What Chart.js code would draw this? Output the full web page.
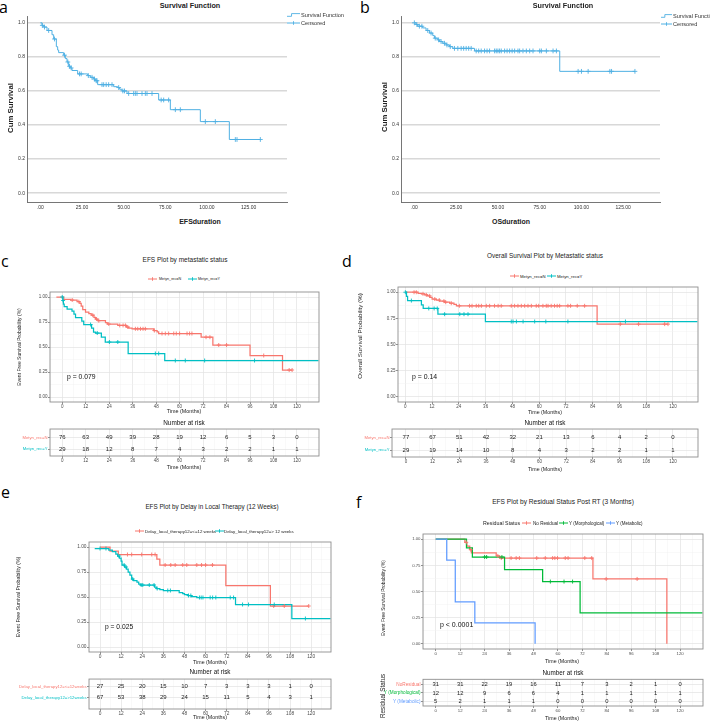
<!DOCTYPE html>
<html><head><meta charset="utf-8">
<script src="https://cdn.jsdelivr.net/npm/chart.js@4.4.1/dist/chart.umd.min.js"></script>
<style>
html,body{margin:0;padding:0;background:#fff;}
#page{position:relative;width:710px;height:722px;overflow:hidden;background:#fff;}
canvas{display:block;}
</style></head><body><div id="page"></div>
<script>
// ---------------- DATA ----------------
// Panel a : EFS (SPSS)
const aTime = [0, 1, 2, 4, 7, 8, 9.6, 10.4, 11, 14, 15, 16, 17, 18, 19, 22.4, 28.4, 30, 32, 33, 34.4, 44, 46.4, 47.6, 49, 52, 71, 78, 96, 113.4, 132];
const aSurv = [1.0, 0.985, 0.975, 0.955, 0.93, 0.905, 0.86, 0.84, 0.825, 0.81, 0.79, 0.77, 0.745, 0.735, 0.72, 0.70, 0.69, 0.68, 0.67, 0.66, 0.637, 0.625, 0.62, 0.61, 0.60, 0.585, 0.547, 0.49, 0.42, 0.315, 0.315];
const aCensT = [1.2, 2.5, 5, 8.5, 14.5, 16.5, 17.5, 18.5, 23.5, 24.5, 28.8, 31, 32.5, 33.5, 34, 37, 38, 39.5, 41, 43, 47, 49.5, 50.5, 53, 56, 57, 58, 61, 63, 64, 67, 72.5, 74, 77, 81, 84, 99, 105, 117, 118, 132];
const aCensS = [0.985, 0.975, 0.955, 0.905, 0.81, 0.77, 0.745, 0.735, 0.70, 0.70, 0.69, 0.68, 0.67, 0.66, 0.66, 0.637, 0.637, 0.637, 0.637, 0.637, 0.62, 0.60, 0.60, 0.585, 0.585, 0.585, 0.585, 0.585, 0.585, 0.585, 0.585, 0.547, 0.547, 0.547, 0.49, 0.49, 0.42, 0.42, 0.315, 0.315, 0.315];

// Panel b : OS (SPSS)
const bTime = [0, 1, 2, 5, 7, 9, 11, 12, 14, 15, 17, 19, 21, 23, 36, 87, 132];
const bSurv = [1.0, 0.99, 0.98, 0.97, 0.955, 0.94, 0.925, 0.91, 0.90, 0.89, 0.88, 0.87, 0.86, 0.85, 0.835, 0.715, 0.715];
const bCensT = [0, 1.5, 3, 4.5, 8, 10, 12.5, 14.5, 16, 18, 19.5, 21.5, 24, 26, 28, 29.5, 31, 32.5, 34, 37, 38.5, 40, 42, 43.5, 45, 48, 49, 50, 51, 52, 54, 55.5, 57, 58.5, 60, 62, 63, 65, 67, 69, 71, 75, 76, 79, 83, 85, 98, 100, 104, 117, 118, 132];
const bCensS = [1.0, 0.99, 0.98, 0.98, 0.955, 0.94, 0.91, 0.90, 0.89, 0.88, 0.87, 0.86, 0.85, 0.85, 0.85, 0.85, 0.85, 0.85, 0.85,
  0.835, 0.835, 0.835, 0.835, 0.835, 0.835, 0.835, 0.835, 0.835, 0.835, 0.835, 0.835, 0.835, 0.835, 0.835, 0.835, 0.835, 0.835, 0.835, 0.835, 0.835, 0.835, 0.835, 0.835, 0.835, 0.835, 0.835,
  0.715, 0.715, 0.715, 0.715, 0.715, 0.715];

// Panel c : EFS by metastatic status
const cNTime = [-3, 0.8, 4.3, 7.6, 9, 9.7, 10.5, 11.9, 13.6, 14.8, 16.2, 17, 18.2, 22.1, 23, 28.4, 32.8, 34, 35.7, 46.8, 48.5, 49.3, 71, 77, 96, 112.6, 117.5];
const cNSurv = [1.0, 0.976, 0.97, 0.953, 0.936, 0.91, 0.875, 0.85, 0.834, 0.818, 0.797, 0.78, 0.763, 0.743, 0.73, 0.716, 0.70, 0.69, 0.682, 0.665, 0.652, 0.635, 0.598, 0.52, 0.415, 0.27, 0.27];
const cNCensT = [5.1, 8.5, 15.6, 17.5, 18.7, 23.8, 29.4, 31.1, 32.3, 33.5, 37.4, 38.6, 40, 41.3, 42.5, 47.1, 51, 52.7, 54.4, 57, 58.3, 60, 63.8, 65.1, 66.3, 73.5, 75.5, 80, 84, 103, 116, 117.5];
const cNCensS = [0.97, 0.953, 0.818, 0.78, 0.763, 0.73, 0.716, 0.716, 0.716, 0.70, 0.682, 0.682, 0.682, 0.682, 0.682, 0.665, 0.635, 0.635, 0.635, 0.635, 0.635, 0.635, 0.635, 0.635, 0.635, 0.598, 0.598, 0.52, 0.52, 0.415, 0.27, 0.27];
const cYTime = [0, 0.3, 0.6, 1, 2.5, 5, 6, 6.8, 10, 11, 15, 16, 17, 20, 22, 33.7, 52.4, 131];
const cYSurv = [1.0, 0.965, 0.93, 0.905, 0.88, 0.86, 0.83, 0.795, 0.76, 0.725, 0.69, 0.65, 0.64, 0.60, 0.55, 0.435, 0.365, 0.365];
const cYCensT = [0, 0.45, 14.5, 17.9, 24.1, 28.4, 47.6, 49.3, 57.8, 62.9, 72.8, 98.3];
const cYCensS = [1.0, 0.965, 0.725, 0.64, 0.55, 0.55, 0.435, 0.435, 0.365, 0.365, 0.365, 0.365];
const cRiskN = [76, 63, 49, 39, 28, 19, 12, 6, 5, 3, 0];
const cRiskY = [29, 18, 12, 8, 7, 4, 3, 2, 2, 1, 1];

// Panel d : OS by metastatic status
const dNTime = [0, 5.7, 7.2, 8.7, 9.9, 11, 12, 13.9, 15.4, 17.6, 19.9, 21.8, 22.9, 86, 117.8];
const dNSurv = [1.0, 0.99, 0.985, 0.975, 0.965, 0.95, 0.935, 0.925, 0.915, 0.905, 0.895, 0.885, 0.87, 0.695, 0.695];
const dNCensT = [3.9, 4.9, 7.9, 9.4, 10.9, 13.2, 15.2, 17.3, 18.1, 20.6, 24.2, 28.8, 29.9, 31.8, 32.9, 34.1, 36.3, 37.8, 40, 41.6, 43, 47.5, 49, 50.5, 52, 53.5, 55, 56.5, 58.7, 59.8, 61.7, 63.2, 64, 65.4, 66.9, 68.1, 69.2, 72.9, 74.1, 77.1, 80.4, 96.4, 104.6, 116.3, 117.8];
const dNCensS = [1.0, 1.0, 0.985, 0.975, 0.965, 0.935, 0.925, 0.915, 0.905, 0.895,
  0.87, 0.87, 0.87, 0.87, 0.87, 0.87, 0.87, 0.87, 0.87, 0.87, 0.87, 0.87, 0.87, 0.87, 0.87, 0.87, 0.87, 0.87, 0.87, 0.87, 0.87, 0.87, 0.87, 0.87, 0.87, 0.87, 0.87, 0.87, 0.87, 0.87, 0.87,
  0.695, 0.695, 0.695, 0.695];
const dYTime = [0, 0.5, 1, 7.2, 8, 14.6, 35.9, 131];
const dYSurv = [1.0, 0.96, 0.92, 0.88, 0.845, 0.79, 0.72, 0.72];
const dYCensT = [0, 2.7, 10.5, 12.9, 14.3, 17.6, 24.4, 26.3, 28.1, 47.5, 48.3, 49.8, 52.8, 58, 63, 72.9, 98.7];
const dYCensS = [1.0, 0.92, 0.845, 0.845, 0.845, 0.79, 0.79, 0.79, 0.79, 0.72, 0.72, 0.72, 0.72, 0.72, 0.72, 0.72, 0.72];
const dRiskN = [77, 67, 51, 42, 32, 21, 13, 6, 4, 2, 0];
const dRiskY = [29, 19, 14, 10, 8, 4, 3, 2, 2, 1, 1];

// Panel e : EFS by delay in local therapy
const eRTime = [0, 5.7, 10.4, 32.3, 34, 71.5, 96.8, 118.6];
const eRSurv = [1.0, 0.96, 0.925, 0.88, 0.82, 0.615, 0.41, 0.41];
const eRCensT = [15.6, 18, 23.7, 29.4, 31.3, 37, 40.2, 42.7, 47, 49.3, 55, 57.7, 60, 63.9, 98.7, 104.7, 118.6];
const eRCensS = [0.925, 0.925, 0.925, 0.925, 0.925, 0.82, 0.82, 0.82, 0.82, 0.82, 0.82, 0.82, 0.82, 0.82, 0.41, 0.41, 0.41];
const eTTime = [-3, 5, 7, 9, 10, 11, 12, 12.5, 14, 15, 16, 17, 18, 19, 21, 22, 23, 31, 32, 34, 36, 45, 47, 48, 50, 52, 55, 77, 109, 131];
const eTSurv = [0.985, 0.97, 0.955, 0.93, 0.91, 0.89, 0.86, 0.82, 0.80, 0.78, 0.75, 0.72, 0.68, 0.665, 0.65, 0.63, 0.62, 0.60, 0.585, 0.575, 0.565, 0.545, 0.535, 0.525, 0.515, 0.505, 0.495, 0.425, 0.285, 0.285];
const eTCensT = [0, 3.4, 10.8, 13.7, 14.8, 18.6, 23.4, 24.3, 28, 30.7, 32.5, 38.5, 40, 50.3, 51.6, 56.5, 57.5, 58.5, 62.6, 64, 65.8, 74, 75.9, 81, 84.4, 99, 116.7];
const eTCensS = [0.985, 0.985, 0.91, 0.82, 0.80, 0.68, 0.62, 0.62, 0.62, 0.62, 0.585, 0.565, 0.565, 0.515, 0.515, 0.495, 0.495, 0.495, 0.495, 0.495, 0.495, 0.495, 0.495, 0.425, 0.425, 0.425, 0.285];
const eRiskLe = [27, 25, 20, 15, 10, 7, 3, 3, 3, 1, 0];
const eRiskGt = [67, 53, 38, 29, 24, 15, 11, 5, 4, 3, 1];

// Panel f : EFS by residual status
const fRTime = [0, 14.3, 15.3, 16.7, 17.5, 29.7, 31.4, 77.2, 113.5];
const fRSurv = [1.0, 0.97, 0.935, 0.90, 0.87, 0.84, 0.82, 0.62, 0.0];
const fRCensT = [15, 17.2, 30.5, 32.2, 37, 39.5, 41.1, 49.6, 53.8, 57.4, 58.5, 59.8, 63.6, 65, 73.2, 76.6, 83.7, 98.9];
const fRCensS = [0.97, 0.90, 0.84, 0.82, 0.82, 0.82, 0.82, 0.82, 0.82, 0.82, 0.82, 0.82, 0.82, 0.82, 0.82, 0.82, 0.62, 0.62];
const fGTime = [0, 15.1, 18, 33.8, 52.5, 70.9, 131];
const fGSurv = [1.0, 0.917, 0.83, 0.71, 0.595, 0.295, 0.295];
const fGCensT = [24, 25, 32.5, 56.3, 63, 67.2];
const fGCensS = [0.83, 0.83, 0.83, 0.595, 0.595, 0.595];
const fBTime = [0, 5.4, 9.6, 19.2, 48.8];
const fBSurv = [1.0, 0.8, 0.4, 0.2, 0.0];
const fRiskNo = [31, 31, 22, 19, 16, 11, 7, 3, 2, 1, 0];
const fRiskMorph = [12, 12, 9, 6, 6, 4, 1, 1, 1, 1, 1];
const fRiskMetab = [5, 2, 1, 1, 1, 0, 0, 0, 0, 0, 0];

// Ticks / labels
const kmMonths = [0, 12, 24, 36, 48, 60, 72, 84, 96, 108, 120];
const kmMonthLabels = ['0', '12', '24', '36', '48', '60', '72', '84', '96', '108', '120'];
const kmMinorMonths = [-6, 6, 18, 30, 42, 54, 66, 78, 90, 102, 114, 126];
const probTicks = [0, 0.25, 0.5, 0.75, 1];
const probLabels = ['0.00', '0.25', '0.50', '0.75', '1.00'];
const probMinor = [0.125, 0.375, 0.625, 0.875];
const spssX = [0, 25, 50, 75, 100, 125];
const spssXLabels = ['.00', '25.00', '50.00', '75.00', '100.00', '125.00'];
const spssY = [0, 0.2, 0.4, 0.6, 0.8, 1.0];
const spssYLabels = ['0.0', '0.2', '0.4', '0.6', '0.8', '1.0'];

const metGroups = ['Metyn_rec=N', 'Metyn_rec=Y'];
const delayLegend = ['Delay_local_therapy12=<=12 weeks', 'Delay_local_therapy12=> 12 weeks'];
const delayTable = ['Delay_local_therapy12=<=12weeks', 'Delay_local_therapy12=>12weeks'];
const resLegend = ['No Residual', 'Y (Morphological)', 'Y (Metabolic)'];
const resTable = ['NoResidual', 'Y (Morphological)', 'Y (Metabolic)'];

// ---------------- STYLE / HELPERS ----------------
const FONT = "'Liberation Sans', Arial, Helvetica, sans-serif";
const RED = '#F8766D', TEAL = '#00BFC4', GREEN = '#00BA38', BLUE = '#619CFF', SPSS = '#4FB0E3';
const GRID_MAJOR = '#e3e3e3', GRID_MINOR = '#f1f1f1';
const page = document.getElementById('page');

function txt(s, x, y, o) {
  o = o || {};
  const size = o.size || 6, base = 20, k = size / base;
  const d = document.createElement('div');
  d.textContent = s;
  const anchor = o.rotate ? 'middle' : (o.anchor || 'middle');
  const ox = anchor === 'start' ? '0%' : anchor === 'end' ? '100%' : '50%';
  d.style.cssText = 'position:absolute;left:' + x + 'px;top:' + y + 'px;white-space:nowrap;font-family:' + (o.family || FONT) +
    ';font-size:' + base + 'px;line-height:1;color:' + (o.color || '#1a1a1a') + ';font-weight:' + (o.weight || 'normal') +
    ';transform-origin:' + ox + ' 50%;';
  d.style.transform = 'translate(-' + ox + ',-50%) ' + (o.rotate ? 'rotate(' + o.rotate + 'deg) ' : '') + 'scale(' + k + ')';
  page.appendChild(d);
}
function key(x, y, w, color, kind) {
  const ns = 'http://www.w3.org/2000/svg';
  const s = document.createElementNS(ns, 'svg');
  s.setAttribute('width', w); s.setAttribute('height', 8);
  s.style.cssText = 'position:absolute;left:' + x + 'px;top:' + (y - 4) + 'px;overflow:visible;';
  let inner;
  if (kind === 'step') {
    inner = '<polyline points="0,5.3 ' + (w * 0.35) + ',5.3 ' + (w * 0.35) + ',2.6 ' + w + ',2.6" fill="none" stroke="' + color + '" stroke-width="0.9"/>';
  } else {
    const c = w / 2;
    inner = '<line x1="0" y1="4" x2="' + w + '" y2="4" stroke="' + color + '" stroke-width="1"/>' +
      '<line x1="' + c + '" y1="2.2" x2="' + c + '" y2="5.8" stroke="' + color + '" stroke-width="0.9"/>';
  }
  s.innerHTML = inner;
  page.appendChild(s);
}
function makeCanvas(l, t, r, b, yw, xh, pt, pr) {
  const c = document.createElement('canvas');
  const left = l - yw, top = t - pt;
  const w = r - left + pr, h = b + xh - top;
  c.width = w; c.height = h;
  c.style.cssText = 'position:absolute;left:' + left + 'px;top:' + top + 'px;width:' + w + 'px;height:' + h + 'px;';
  page.appendChild(c);
  return c;
}
const near = (arr, v) => arr.some(a => Math.abs(a - v) < 1e-9);
function framePlugin(color) {
  return { id: 'frame', afterDatasetsDraw(chart) {
    const a = chart.chartArea, ctx = chart.ctx;
    ctx.save(); ctx.strokeStyle = color || '#8f8f8f'; ctx.lineWidth = 0.9;
    ctx.strokeRect(a.left, a.top, a.right - a.left, a.bottom - a.top); ctx.restore();
  }};
}
function riskPlugin(rows, size) {
  return { id: 'riskText', afterDatasetsDraw(chart) {
    const ctx = chart.ctx, x = chart.scales.x, y = chart.scales.y;
    ctx.save(); ctx.font = size + 'px ' + FONT; ctx.fillStyle = '#1a1a1a';
    ctx.textAlign = 'center'; ctx.textBaseline = 'middle';
    rows.forEach((row, r) => row.forEach((v, i) => ctx.fillText(String(v), x.getPixelForValue(kmMonths[i]), y.getPixelForValue(r + 1))));
    ctx.restore();
  }};
}
function ggX(min, max, fs, xh) {
  return {
    type: 'linear', min: min, max: max,
    afterBuildTicks: s => { s.ticks = kmMonths.concat(kmMinorMonths).filter(v => v >= min && v <= max).sort((p, q) => p - q).map(v => ({ value: v })); },
    afterFit: s => { s.height = xh; },
    ticks: { autoSkip: false, maxRotation: 0, minRotation: 0, padding: 0, color: '#4d4d4d', font: { family: FONT, size: fs },
      callback: v => { const i = kmMonths.indexOf(v); return i >= 0 ? kmMonthLabels[i] : ''; } },
    grid: { color: c => (c.tick && near(kmMonths, c.tick.value)) ? GRID_MAJOR : GRID_MINOR,
      lineWidth: c => (c.tick && near(kmMonths, c.tick.value)) ? 0.7 : 0.45,
      tickColor: c => (c.tick && near(kmMonths, c.tick.value)) ? '#444' : 'rgba(0,0,0,0)',
      tickLength: 2, tickWidth: 0.6, drawTicks: true },
    border: { display: false }
  };
}
function ggY(fs, yw) {
  return {
    type: 'linear', min: -0.05, max: 1.05,
    afterBuildTicks: s => { s.ticks = probTicks.concat(probMinor).sort((p, q) => p - q).map(v => ({ value: v })); },
    afterFit: s => { s.width = yw; },
    ticks: { autoSkip: false, padding: 0.5, color: '#4d4d4d', font: { family: FONT, size: fs },
      callback: v => { const i = probTicks.indexOf(v); return i >= 0 ? probLabels[i] : ''; } },
    grid: { color: c => (c.tick && near(probTicks, c.tick.value)) ? GRID_MAJOR : GRID_MINOR,
      lineWidth: c => (c.tick && near(probTicks, c.tick.value)) ? 0.7 : 0.45,
      tickColor: c => (c.tick && near(probTicks, c.tick.value)) ? '#444' : 'rgba(0,0,0,0)',
      tickLength: 2, tickWidth: 0.6, drawTicks: true },
    border: { display: false }
  };
}
const baseOpts = () => ({
  responsive: false, animation: false, events: [], devicePixelRatio: 1,
  layout: { padding: { top: 4, right: 4, left: 0, bottom: 0 }, autoPadding: false },
  plugins: { legend: { display: false }, tooltip: { enabled: false }, title: { display: false } }
});
const pts = (t, s) => t.map((v, i) => ({ x: v, y: s[i] }));
function curveDs(t, s, color, lw) {
  return { type: 'line', data: pts(t, s), borderColor: color, borderWidth: lw, stepped: 'before', pointRadius: 0, fill: false, tension: 0 };
}
function censDs(t, s, color, r) {
  return { type: 'scatter', data: pts(t, s), pointStyle: 'cross', pointRadius: r, borderColor: color, backgroundColor: color,
    borderWidth: 0.9, pointBorderWidth: 0.9, showLine: false };
}
function ggPlot(g, curves, cens, fs) {
  const cv = makeCanvas(g.l, g.t, g.r, g.b, g.yw, g.xh, 4, 4);
  const datasets = cens.map(c => censDs(c.t, c.s, c.color, 2)).concat(curves.map(c => curveDs(c.t, c.s, c.color, 1.25)));
  const o = baseOpts();
  o.scales = { x: ggX(g.xmin, g.xmax, fs, g.xh), y: ggY(fs, g.yw) };
  new Chart(cv, { type: 'scatter', data: { datasets: datasets }, options: o, plugins: [framePlugin()] });
}
function ggRisk(g, rows, labels, colors, fs, ls, ns) {
  const cv = makeCanvas(g.l, g.t, g.r, g.b, g.yw, g.xh, 2, 4);
  const idx = labels.map((_, i) => i + 1);
  const o = baseOpts();
  o.layout.padding.top = 2;
  o.scales = {
    x: ggX(g.xmin, g.xmax, fs, g.xh),
    y: { type: 'linear', min: g.ymin, max: g.ymax, reverse: true,
      afterBuildTicks: s => { s.ticks = idx.map(v => ({ value: v })); },
      afterFit: s => { s.width = g.yw; },
      ticks: { autoSkip: false, padding: 0.5, font: { family: FONT, size: ls }, color: c => colors[c.index],
        callback: v => labels[idx.indexOf(v)] || '' },
      grid: { color: GRID_MAJOR, lineWidth: 0.7, tickLength: 2, tickColor: '#444', tickWidth: 0.6 },
      border: { display: false } }
  };
  new Chart(cv, { type: 'scatter', data: { datasets: [] }, options: o, plugins: [framePlugin(), riskPlugin(rows, ns)] });
}
function spssPlot(g, t, s, ct, cs) {
  const cv = makeCanvas(g.l, g.t, g.r, g.b, g.yw, g.xh, 2, 2);
  const o = baseOpts();
  o.layout.padding = { top: 2, right: 2, left: 0, bottom: 0 };
  o.scales = {
    x: { type: 'linear', min: g.xmin, max: g.xmax,
      afterBuildTicks: sc => { sc.ticks = spssX.map(v => ({ value: v })); },
      afterFit: sc => { sc.height = g.xh; },
      ticks: { autoSkip: false, maxRotation: 0, minRotation: 0, padding: 3, color: '#333', font: { family: FONT, size: 5 },
        callback: v => spssXLabels[spssX.indexOf(v)] },
      grid: { display: false, drawTicks: false },
      border: { display: true, color: '#666', width: 0.9 } },
    y: { type: 'linear', min: -0.052, max: 1.04,
      afterBuildTicks: sc => { sc.ticks = spssY.map(v => ({ value: v })); },
      afterFit: sc => { sc.width = g.yw; },
      ticks: { autoSkip: false, padding: 2, color: '#333', font: { family: FONT, size: 5 },
        callback: v => { const i = spssY.findIndex(a => Math.abs(a - v) < 1e-9); return i >= 0 ? spssYLabels[i] : ''; } },
      grid: { color: '#d8d8d8', lineWidth: 1.6, drawTicks: false },
      border: { display: true, color: '#666', width: 0.9 } }
  };
  new Chart(cv, { type: 'scatter', data: { datasets: [censDs(ct, cs, SPSS, 2.4), curveDs(t, s, SPSS, 1)] }, options: o });
}

// ---------------- PANELS ----------------
const PL = { family: "'Open Sans', 'Liberation Sans', sans-serif", size: 16, color: '#000', anchor: 'start' };
txt('a', -1, 7.3, PL); txt('b', 360.4, 7.4, PL);
txt('c', 0.7, 260.8, PL); txt('d', 342.3, 260.9, PL);
txt('e', 0.7, 492.3, PL); txt('f', 356, 501.6, PL);

// a
spssPlot({ l: 27, t: 13, r: 287, b: 202, yw: 27, xh: 14, xmin: -8, xmax: 148 }, aTime, aSurv, aCensT, aCensS);
txt('Survival Function', 190, 4.5, { size: 7.2, weight: 'bold', color: '#222' });
txt('Cum Survival', 10, 108, { size: 7.8, weight: 'bold', rotate: -90, color: '#222' });
txt('EFSduration', 200, 222, { size: 7, weight: 'bold', color: '#222' });
key(287, 14.7, 13, SPSS, 'step'); txt('Survival Function', 300.5, 14.7, { size: 5.6, anchor: 'start', color: '#333' });
key(287, 22.7, 13, SPSS, 'cross'); txt('Censored', 300.5, 22.7, { size: 5.6, anchor: 'start', color: '#333' });

// b
spssPlot({ l: 401, t: 13, r: 660, b: 202, yw: 25, xh: 14, xmin: -8, xmax: 147 }, bTime, bSurv, bCensT, bCensS);
txt('Survival Function', 563, 5.3, { size: 7.2, weight: 'bold', color: '#222' });
txt('Cum Survival', 383.5, 107, { size: 7.8, weight: 'bold', rotate: -90, color: '#222' });
txt('OSduration', 511, 222, { size: 7, weight: 'bold', color: '#222' });
key(661, 16, 11, SPSS, 'step'); txt('Survival Function', 673, 16, { size: 5.6, anchor: 'start', color: '#333' });
key(661, 24, 11, SPSS, 'cross'); txt('Censored', 673, 24, { size: 5.6, anchor: 'start', color: '#333' });

// c
ggPlot({ l: 50, t: 292, r: 319, b: 402, yw: 20, xh: 8, xmin: -6.25, xmax: 131.25 },
  [{ t: cYTime, s: cYSurv, color: TEAL }, { t: cNTime, s: cNSurv, color: RED }],
  [{ t: cYCensT, s: cYCensS, color: TEAL }, { t: cNCensT, s: cNCensS, color: RED }], 4.5);
ggRisk({ l: 50, t: 428, r: 319, b: 456, yw: 50, xh: 8, xmin: -6.25, xmax: 131.25, ymin: 0.25, ymax: 2.583 },
  [cRiskN, cRiskY], metGroups, [RED, TEAL], 4.5, 4.2, 6);
txt('EFS Plot by metastatic status', 185, 260, { size: 6.5, color: '#222' });
key(148, 279, 9, RED, 'cross'); txt(metGroups[0], 158.5, 279, { size: 3.7, anchor: 'start' });
key(188, 279, 9, TEAL, 'cross'); txt(metGroups[1], 198, 279, { size: 3.7, anchor: 'start' });
txt('Event Free Survival Probability (%)', 19.3, 347, { size: 5.0, rotate: -90, color: '#222' });
txt('p = 0.079', 67.3, 377.3, { size: 6.8, anchor: 'start', color: '#111' });
txt('Time (Months)', 184, 411, { size: 5.4, color: '#222' });
txt('Number at risk', 184, 422.5, { size: 6.4, color: '#111' });
txt('Time (Months)', 184, 467, { size: 5.4, color: '#222' });

// d
ggPlot({ l: 398, t: 287, r: 698, b: 402, yw: 20, xh: 8, xmin: -3.3, xmax: 131.25 },
  [{ t: dYTime, s: dYSurv, color: TEAL }, { t: dNTime, s: dNSurv, color: RED }],
  [{ t: dYCensT, s: dYCensS, color: TEAL }, { t: dNCensT, s: dNCensS, color: RED }], 4.5);
ggRisk({ l: 392, t: 428, r: 698, b: 457, yw: 30, xh: 8, xmin: -6.25, xmax: 131.25, ymin: 0.308, ymax: 2.54 },
  [dRiskN, dRiskY], metGroups, [RED, TEAL], 4.5, 4.2, 6);
txt('Overall Survival Plot by Metastatic status', 545.3, 256, { size: 6.4, color: '#222' });
key(510, 275.7, 9, RED, 'cross'); txt(metGroups[0], 520, 275.7, { size: 4.3, anchor: 'start' });
key(547, 275.7, 9, TEAL, 'cross'); txt(metGroups[1], 557, 275.7, { size: 4.3, anchor: 'start' });
txt('Overall Survival Probability (%)', 360, 336, { size: 6.2, rotate: -90, color: '#222' });
txt('p = 0.14', 411.7, 376.7, { size: 6.9, anchor: 'start', color: '#111' });
txt('Time (Months)', 545, 412, { size: 5.3, color: '#222' });
txt('Number at risk', 545, 423, { size: 6.3, color: '#111' });
txt('Time (Months)', 545, 469, { size: 5.3, color: '#222' });

// e
ggPlot({ l: 89, t: 542, r: 331, b: 652, yw: 20, xh: 8, xmin: -6.25, xmax: 131.25 },
  [{ t: eTTime, s: eTSurv, color: TEAL }, { t: eRTime, s: eRSurv, color: RED }],
  [{ t: eTCensT, s: eTCensS, color: TEAL }, { t: eRCensT, s: eRCensS, color: RED }], 4.8);
ggRisk({ l: 89, t: 678, r: 331, b: 709, yw: 89, xh: 8, xmin: -6.25, xmax: 131.25, ymin: 0.336, ymax: 3.01 },
  [eRiskLe, eRiskGt], delayTable, [RED, TEAL], 4.8, 4.25, 6);
txt('EFS Plot by Delay in Local Therapy (12 Weeks)', 212, 507, { size: 6.3, color: '#222' });
key(135, 531, 9, RED, 'cross'); txt(delayLegend[0], 144.5, 531, { size: 4.4, anchor: 'start' });
key(215, 531, 9, TEAL, 'cross'); txt(delayLegend[1], 224, 531, { size: 4.4, anchor: 'start' });
txt('Event Free Survival Probability (%)', 18.3, 597, { size: 5.2, rotate: -90, color: '#222' });
txt('p = 0.025', 105, 626.7, { size: 6.7, anchor: 'start', color: '#111' });
txt('Time (Months)', 210, 661.7, { size: 5.3, color: '#222' });
txt('Number at risk', 210, 672.3, { size: 6.3, color: '#111' });
txt('Time (Months)', 210, 716.5, { size: 5.3, color: '#222' });

// f
ggPlot({ l: 423, t: 534, r: 703, b: 649, yw: 20, xh: 8, xmin: -6.25, xmax: 131.25 },
  [{ t: fBTime, s: fBSurv, color: BLUE }, { t: fGTime, s: fGSurv, color: GREEN }, { t: fRTime, s: fRSurv, color: RED }],
  [{ t: fGCensT, s: fGCensS, color: GREEN }, { t: fRCensT, s: fRCensS, color: RED }], 4.3);
ggRisk({ l: 423, t: 678, r: 703, b: 706, yw: 45, xh: 9, xmin: -6.25, xmax: 131.25, ymin: 0.41, ymax: 3.52 },
  [fRiskNo, fRiskMorph, fRiskMetab], resTable, [RED, GREEN, BLUE], 4.3, 4.7, 5.8);
txt('EFS Plot by Residual Status Post RT (3 Months)', 562.5, 501.7, { size: 6.6, color: '#222' });
txt('Residual Status', 483.3, 522.7, { size: 5.3, anchor: 'start' });
key(521.5, 522.7, 9, RED, 'cross'); txt(resLegend[0], 532.5, 522.7, { size: 4.6, anchor: 'start' });
key(558.5, 522.7, 9, GREEN, 'cross'); txt(resLegend[1], 568.5, 522.7, { size: 4.5, anchor: 'start' });
key(605.5, 522.7, 9, BLUE, 'cross'); txt(resLegend[2], 615.5, 522.7, { size: 4.5, anchor: 'start' });
txt('Event Free Survival Probability (%)', 383.3, 597.5, { size: 4.9, rotate: -90, color: '#222' });
txt('p < 0.0001', 440, 625, { size: 7, anchor: 'start', color: '#111' });
txt('Time (Months)', 562, 661, { size: 5.3, color: '#222' });
txt('Number at risk', 562.5, 672.7, { size: 6.3, color: '#111' });
txt('Time (Months)', 562, 717.7, { size: 5.3, color: '#222' });
txt('Residual Status', 382.5, 696, { size: 6.3, rotate: -90, color: '#222' });
</script></body></html>
